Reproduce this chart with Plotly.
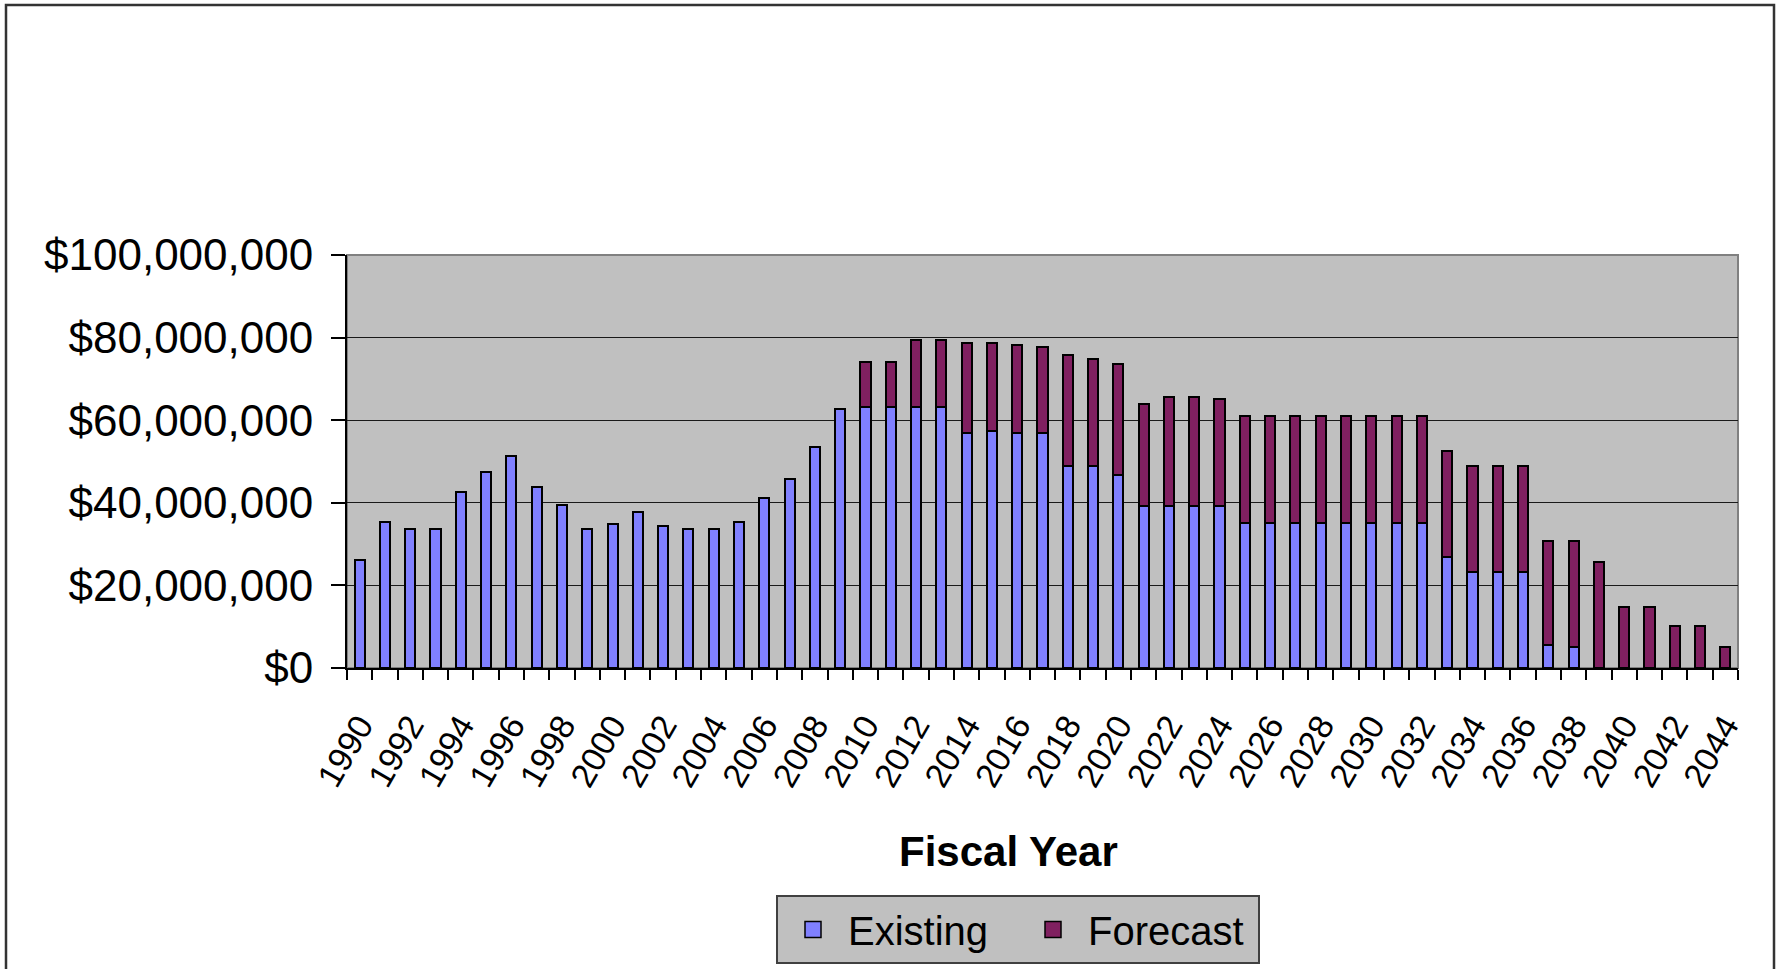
import plotly.graph_objects as go

# ---------------------------------------------------------
# DATA (values in millions of dollars)
# ---------------------------------------------------------
years = list(range(1990, 2045))

existing_m = [
    26.2, 35.3, 33.6, 33.6, 42.7, 47.4, 51.4, 43.9, 39.4, 33.6,   # 1990-1999
    34.8, 37.7, 34.3, 33.6, 33.6, 35.3, 41.1, 45.7, 53.6, 62.7,   # 2000-2009
    63.3, 63.3, 63.3, 63.3, 57.0, 57.4, 57.0, 57.0, 48.9, 48.9,   # 2010-2019
    46.7, 39.3, 39.3, 39.3, 39.3, 35.2, 35.2, 35.2, 35.2, 35.2,   # 2020-2029
    35.2, 35.2, 35.2, 26.8, 23.2, 23.2, 23.2, 5.5, 5.1, None,     # 2030-2039
    None, None, None, None, None,                                  # 2040-2044
]

forecast_m = [
    None, None, None, None, None, None, None, None, None, None,   # 1990-1999
    None, None, None, None, None, None, None, None, None, None,   # 2000-2009
    10.9, 10.9, 16.0, 16.0, 21.8, 21.4, 21.1, 20.7, 27.0, 25.9,   # 2010-2019
    26.9, 24.6, 26.3, 26.3, 25.8, 25.9, 25.9, 25.9, 25.9, 25.9,   # 2020-2029
    25.9, 25.9, 25.9, 25.7, 25.7, 25.7, 25.7, 25.2, 25.6, 25.6,   # 2030-2039
    14.8, 14.8, 10.2, 10.2, 5.1,                                   # 2040-2044
]

y_ticks = [0, 20e6, 40e6, 60e6, 80e6, 100e6]
y_ticktext = ["$0", "$20,000,000", "$40,000,000", "$60,000,000",
              "$80,000,000", "$100,000,000"]
label_years = [y for y in years if y % 2 == 0]

EXISTING_COLOR = "#8080FF"
FORECAST_COLOR = "#802060"


def to_dollars(vals):
    return [None if v is None else v * 1e6 for v in vals]


# ---------------------------------------------------------
# LAYOUT GEOMETRY (pixels)
# ---------------------------------------------------------
W, H = 1778, 969
L, R, T, B = 347, 40, 255, 301
pw, ph = W - L - R, H - T - B


def px_x(x):
    return (x - L) / pw


def px_y(y):
    return (H - B - y) / ph


FONT = "Liberation Sans, Arial, sans-serif"

fig = go.Figure()

fig.add_trace(go.Bar(
    x=years, y=to_dollars(existing_m), name="Existing", showlegend=False,
    marker=dict(color=EXISTING_COLOR, line=dict(color="black", width=2)),
))
fig.add_trace(go.Bar(
    x=years, y=to_dollars(forecast_m), name="Forecast", showlegend=False,
    marker=dict(color=FORECAST_COLOR, line=dict(color="black", width=2)),
))

# legend entries with square swatches
for name, color in [("Existing", EXISTING_COLOR), ("Forecast", FORECAST_COLOR)]:
    fig.add_trace(go.Scatter(
        x=[None], y=[None], mode="markers", name=name,
        marker=dict(symbol="square", size=22, color=color,
                    line=dict(color="black", width=1.5)),
    ))

fig.update_layout(
    width=W, height=H,
    margin=dict(l=L, r=R, t=T, b=B, autoexpand=False),
    barmode="stack",
    bargap=0.6,
    paper_bgcolor="white",
    plot_bgcolor="#C0C0C0",
    font=dict(family=FONT, color="black"),
    showlegend=True,
    legend=dict(
        orientation="h",
        x=px_x(1018), xanchor="center",
        y=px_y(895), yanchor="top",
        bgcolor="#C0C0C0", bordercolor="#404040", borderwidth=2,
        font=dict(size=40, family=FONT),
        itemsizing="trace",
        itemwidth=60,
        entrywidth=165,
        traceorder="normal",
    ),
    xaxis=dict(
        range=[1989.5, 2044.5],
        tickmode="array", tickvals=label_years,
        ticktext=[str(y) for y in label_years],
        tickangle=-60,
        tickfont=dict(size=34, family=FONT),
        ticks="", showgrid=False,
        ticklabelstandoff=22,
        showline=True, linecolor="black", linewidth=2,
        minor=dict(tickmode="linear", tick0=1989.5, dtick=1,
                   ticks="outside", ticklen=10, tickcolor="black",
                   tickwidth=1.5, showgrid=False),
        zeroline=False,
    ),
    yaxis=dict(
        range=[0, 100e6],
        tickmode="array", tickvals=y_ticks, ticktext=y_ticktext,
        tickfont=dict(size=44, family=FONT),
        ticks="outside", ticklen=14, tickcolor="black", tickwidth=1.5,
        ticklabelstandoff=9,
        showgrid=True, gridcolor="#1a1a1a", gridwidth=1,
        showline=True, linecolor="black", linewidth=2,
        zeroline=False,
    ),
    shapes=[
        # plot area border (top/right grey)
        dict(type="rect", xref="paper", yref="paper", x0=0, x1=1, y0=0, y1=1,
             line=dict(color="#808080", width=2), layer="below"),
        # chart outer border
        dict(type="rect", xref="paper", yref="paper",
             x0=px_x(6), x1=px_x(1774), y0=px_y(1100), y1=px_y(5),
             line=dict(color="#333333", width=2.5)),
    ],
    annotations=[
        dict(text="<b>Fiscal Year</b>", xref="paper", yref="paper",
             x=px_x(1008), y=px_y(851), xanchor="center", yanchor="middle",
             showarrow=False, font=dict(size=42, family=FONT)),
    ],
)

# page body has a default 8px margin; drop it so the figure fills the window
fig.write_html("out.html", config={"displayModeBar": False},
               post_script="document.body.style.margin='0';")
